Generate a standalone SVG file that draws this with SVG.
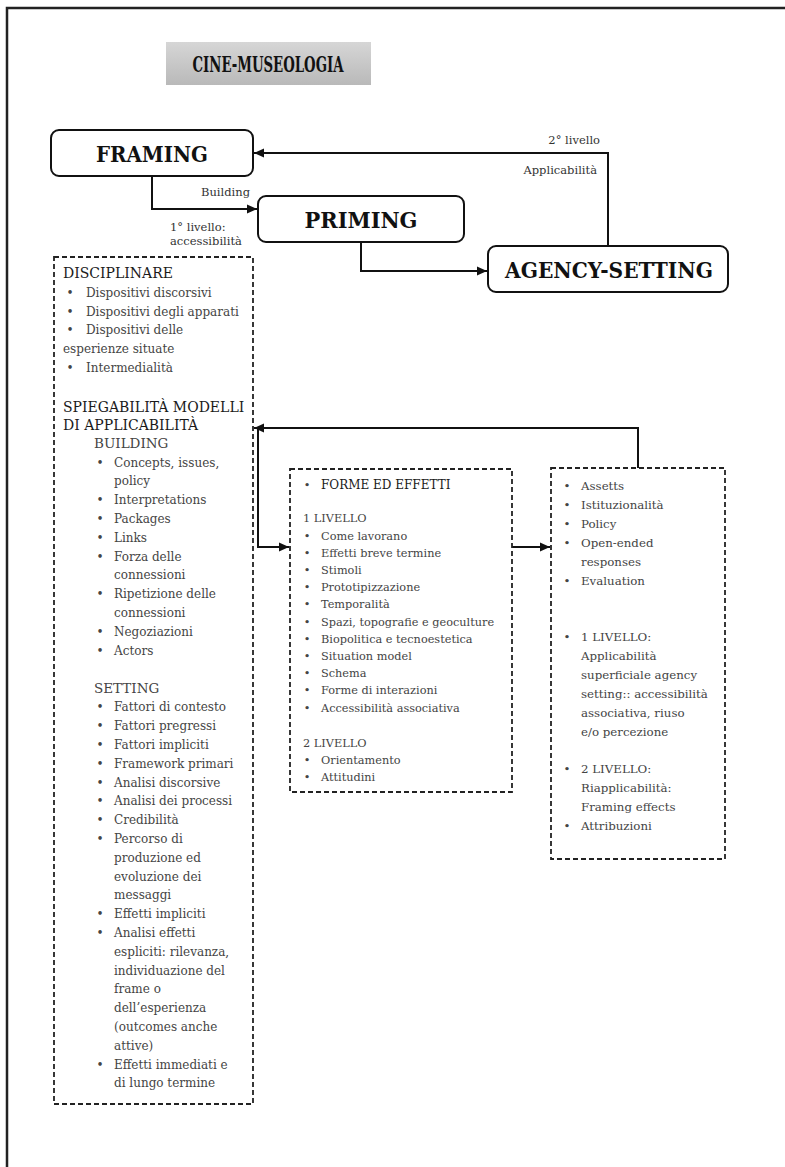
<svg xmlns="http://www.w3.org/2000/svg" width="785" height="1167" viewBox="0 0 785 1167">
<defs>
<linearGradient id="tg" x1="0" y1="0" x2="0" y2="1">
<stop offset="0" stop-color="#d6d6d6"/><stop offset="1" stop-color="#b9b9b9"/>
</linearGradient>
<marker id="ah" viewBox="0 0 10 10" refX="10" refY="5" markerWidth="10" markerHeight="10" markerUnits="userSpaceOnUse" orient="auto">
<path d="M0,0.5 L10,5 L0,9.5 Z" fill="#111"/>
</marker>
<style>
.node{fill:#fff;stroke:#111;stroke-width:2}
.dash{fill:none;stroke:#222;stroke-width:1.8;stroke-dasharray:5 3}
.big{font-family:"DejaVu Serif",serif;font-weight:bold;font-size:23px;fill:#111}
.t{font-family:"DejaVu Serif",serif;fill:#444}
.l{font-size:12px}
.m{font-size:11.3px}
.r{font-size:11.8px}
.h{font-family:"DejaVu Serif",serif;font-size:14px;fill:#1a1a1a}
.lab{font-family:"DejaVu Serif",serif;font-size:11.5px;fill:#333}
.c{fill:none;stroke:#111;stroke-width:2}
</style>
</defs>
<rect width="785" height="1167" fill="#fff"/>
<path d="M7,1167 V8 H785" fill="none" stroke="#222" stroke-width="2.5"/>

<g id="title">
<rect x="166" y="42" width="205" height="43" fill="url(#tg)"/>
<text class="big" x="268" y="72" text-anchor="middle" font-size="22" textLength="151" lengthAdjust="spacingAndGlyphs">CINE-MUSEOLOGIA</text>
</g>

<g id="framing">
<rect class="node" x="51" y="130" width="202" height="46" rx="8"/>
<text class="big" x="152" y="162" text-anchor="middle" textLength="112" lengthAdjust="spacingAndGlyphs">FRAMING</text>
</g>
<g id="priming">
<rect class="node" x="258" y="196" width="206" height="46" rx="8"/>
<text class="big" x="361" y="228" text-anchor="middle" textLength="113" lengthAdjust="spacingAndGlyphs">PRIMING</text>
</g>
<g id="agency-setting">
<rect class="node" x="488" y="246" width="240" height="46" rx="8"/>
<text class="big" x="609" y="278" text-anchor="middle" textLength="208" lengthAdjust="spacingAndGlyphs">AGENCY-SETTING</text>
</g>

<g id="connectors">
<path class="c" d="M152,176 V209 H257" marker-end="url(#ah)"/>
<path class="c" d="M361,242 V271 H487" marker-end="url(#ah)"/>
<path class="c" d="M608,246 V153 H254" marker-end="url(#ah)"/>
<path class="c" d="M638,468 V428 H254" marker-end="url(#ah)"/>
<path class="c" d="M258,428 V547 H289" marker-end="url(#ah)"/>
<path class="c" d="M512,547 H550" marker-end="url(#ah)"/>
</g>

<g id="labels">
<text class="lab" x="250" y="196" text-anchor="end">Building</text>
<text class="lab" x="170" y="231">1° livello:</text>
<text class="lab" x="170" y="245">accessibilità</text>
<text class="lab" x="600" y="144" text-anchor="end">2° livello</text>
<text class="lab" x="597" y="174" text-anchor="end">Applicabilità</text>
</g>

<g id="left-box">
<rect class="dash" x="54" y="257" width="199" height="847"/>
<text class="h" x="63" y="278">DISCIPLINARE</text>
<g class="t l">
<text x="70" y="296.5" text-anchor="middle">•</text><text x="86" y="296.5">Dispositivi discorsivi</text>
<text x="70" y="315.5" text-anchor="middle">•</text><text x="86" y="315.5">Dispositivi degli apparati</text>
<text x="70" y="333.5" text-anchor="middle">•</text><text x="86" y="333.5">Dispositivi delle</text>
<text x="63" y="352.5">esperienze situate</text>
<text x="70" y="371.5" text-anchor="middle">•</text><text x="86" y="371.5">Intermedialità</text>
</g>
<text class="h" x="63" y="412">SPIEGABILITÀ MODELLI</text>
<text class="h" x="63" y="430">DI APPLICABILITÀ</text>
<text class="t" x="94" y="448" font-size="13.5">BUILDING</text>
<g class="t l">
<text x="100" y="466.5" text-anchor="middle">•</text><text x="114" y="466.5">Concepts, issues,</text>
<text x="114" y="485.3">policy</text>
<text x="100" y="504.1" text-anchor="middle">•</text><text x="114" y="504.1">Interpretations</text>
<text x="100" y="522.9" text-anchor="middle">•</text><text x="114" y="522.9">Packages</text>
<text x="100" y="541.7" text-anchor="middle">•</text><text x="114" y="541.7">Links</text>
<text x="100" y="560.5" text-anchor="middle">•</text><text x="114" y="560.5">Forza delle</text>
<text x="114" y="579.3">connessioni</text>
<text x="100" y="598.1" text-anchor="middle">•</text><text x="114" y="598.1">Ripetizione delle</text>
<text x="114" y="616.9">connessioni</text>
<text x="100" y="635.7" text-anchor="middle">•</text><text x="114" y="635.7">Negoziazioni</text>
<text x="100" y="654.5" text-anchor="middle">•</text><text x="114" y="654.5">Actors</text>
</g>
<text class="t" x="94" y="692.5" font-size="13.5">SETTING</text>
<g class="t l">
<text x="100" y="711.3" text-anchor="middle">•</text><text x="114" y="711.3">Fattori di contesto</text>
<text x="100" y="730.1" text-anchor="middle">•</text><text x="114" y="730.1">Fattori pregressi</text>
<text x="100" y="748.9" text-anchor="middle">•</text><text x="114" y="748.9">Fattori impliciti</text>
<text x="100" y="767.7" text-anchor="middle">•</text><text x="114" y="767.7">Framework primari</text>
<text x="100" y="786.5" text-anchor="middle">•</text><text x="114" y="786.5">Analisi discorsive</text>
<text x="100" y="805.3" text-anchor="middle">•</text><text x="114" y="805.3">Analisi dei processi</text>
<text x="100" y="824.1" text-anchor="middle">•</text><text x="114" y="824.1">Credibilità</text>
<text x="100" y="842.9" text-anchor="middle">•</text><text x="114" y="842.9">Percorso di</text>
<text x="114" y="861.7">produzione ed</text>
<text x="114" y="880.5">evoluzione dei</text>
<text x="114" y="899.3">messaggi</text>
<text x="100" y="918.1" text-anchor="middle">•</text><text x="114" y="918.1">Effetti impliciti</text>
<text x="100" y="936.9" text-anchor="middle">•</text><text x="114" y="936.9">Analisi effetti</text>
<text x="114" y="955.7">espliciti: rilevanza,</text>
<text x="114" y="974.5">individuazione del</text>
<text x="114" y="993.3">frame o</text>
<text x="114" y="1012.1">dell’esperienza</text>
<text x="114" y="1030.9">(outcomes anche</text>
<text x="114" y="1049.7">attive)</text>
<text x="100" y="1068.5" text-anchor="middle">•</text><text x="114" y="1068.5">Effetti immediati e</text>
<text x="114" y="1087.3">di lungo termine</text>
</g>
</g>

<g id="middle-box">
<rect class="dash" x="290" y="469" width="222" height="323"/>
<g class="t m">
<text x="307" y="488.5" text-anchor="middle">•</text><text x="321" y="488.5" font-size="12" fill="#1a1a1a">FORME ED EFFETTI</text>
<text x="303" y="521.5">1 LIVELLO</text>
<text x="307" y="539.5" text-anchor="middle">•</text><text x="321" y="539.5">Come lavorano</text>
<text x="307" y="556.7" text-anchor="middle">•</text><text x="321" y="556.7">Effetti breve termine</text>
<text x="307" y="573.9" text-anchor="middle">•</text><text x="321" y="573.9">Stimoli</text>
<text x="307" y="591.1" text-anchor="middle">•</text><text x="321" y="591.1">Prototipizzazione</text>
<text x="307" y="608.3" text-anchor="middle">•</text><text x="321" y="608.3">Temporalità</text>
<text x="307" y="625.5" text-anchor="middle">•</text><text x="321" y="625.5">Spazi, topografie e geoculture</text>
<text x="307" y="642.7" text-anchor="middle">•</text><text x="321" y="642.7">Biopolitica e tecnoestetica</text>
<text x="307" y="659.9" text-anchor="middle">•</text><text x="321" y="659.9">Situation model</text>
<text x="307" y="677.1" text-anchor="middle">•</text><text x="321" y="677.1">Schema</text>
<text x="307" y="694.3" text-anchor="middle">•</text><text x="321" y="694.3">Forme di interazioni</text>
<text x="307" y="711.5" text-anchor="middle">•</text><text x="321" y="711.5">Accessibilità associativa</text>
<text x="303" y="746.5">2 LIVELLO</text>
<text x="307" y="763.5" text-anchor="middle">•</text><text x="321" y="763.5">Orientamento</text>
<text x="307" y="780.5" text-anchor="middle">•</text><text x="321" y="780.5">Attitudini</text>
</g>
</g>

<g id="right-box">
<rect class="dash" x="551" y="468" width="174" height="391"/>
<g class="t r">
<text x="567" y="489.5" text-anchor="middle">•</text><text x="581" y="489.5">Assetts</text>
<text x="567" y="508.5" text-anchor="middle">•</text><text x="581" y="508.5">Istituzionalità</text>
<text x="567" y="527.5" text-anchor="middle">•</text><text x="581" y="527.5">Policy</text>
<text x="567" y="546.5" text-anchor="middle">•</text><text x="581" y="546.5">Open-ended</text>
<text x="581" y="565.5">responses</text>
<text x="567" y="584.5" text-anchor="middle">•</text><text x="581" y="584.5">Evaluation</text>
<text x="567" y="640.5" text-anchor="middle">•</text><text x="581" y="640.5">1 LIVELLO:</text>
<text x="581" y="659.5">Applicabilità</text>
<text x="581" y="678.5">superficiale agency</text>
<text x="581" y="697.5">setting:: accessibilità</text>
<text x="581" y="716.5">associativa, riuso</text>
<text x="581" y="735.5">e/o percezione</text>
<text x="567" y="772.5" text-anchor="middle">•</text><text x="581" y="772.5">2 LIVELLO:</text>
<text x="581" y="791.5">Riapplicabilità:</text>
<text x="581" y="810.5">Framing effects</text>
<text x="567" y="829.5" text-anchor="middle">•</text><text x="581" y="829.5">Attribuzioni</text>
</g>
</g>
</svg>
